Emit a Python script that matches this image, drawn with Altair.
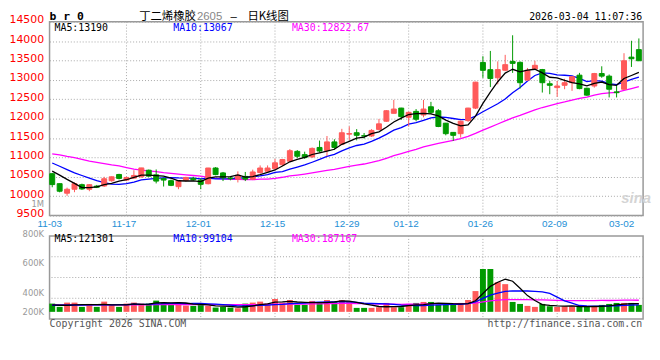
import altair as alt
import pandas as pd
import numpy as np

# ---------------- data ----------------
tick_idx = [0, 10, 20, 30, 40, 48, 58, 68, 77]
tick_lbl = ["11-03", "11-17", "12-01", "12-15", "12-29", "01-12", "01-26", "02-09", "03-02"]
grid_idx = [10, 20, 30, 40, 48, 58, 68]

opens = [10580, 10323, 10077, 10179, 10297, 10179, 10260, 10263, 10399, 10560,
         10416, 10467, 10500, 10670, 10551, 10458, 10400, 10246, 10407, 10460,
         10415, 10322, 10727, 10600, 10470, 10440, 10510, 10440, 10609, 10643,
         10710, 10811, 10903, 11156, 11072, 11013, 11257, 11181, 11400, 11341,
         11600, 11637, 11560, 11552, 11722, 11933, 12137, 12272, 12035, 12187,
         12094, 12306, 12204, 11883, 11645, 11612, 11950, 12272, 13449, 13263,
         13054, 13248, 13476, 13451, 12995, 13282, 13265, 12900, 12800, 12860,
         12927, 13121, 12783, 12842, 13163, 13096, 12690, 12758, 13586, 13780]
highs = [10600, 10330, 10221, 10357, 10323, 10314, 10290, 10500, 10510, 10577,
         10500, 10670, 10730, 10687, 10690, 10470, 10430, 10416, 10500, 10500,
         10457, 10730, 10750, 10625, 10515, 10640, 10625, 10685, 10794, 10794,
         10962, 10962, 11215, 11190, 11148, 11257, 11434, 11552, 11468, 11737,
         11800, 11730, 11630, 11730, 11993, 12221, 12484, 12280, 12180, 12247,
         12484, 12433, 12247, 11890, 11650, 11950, 12280, 12950, 13610, 13746,
         13476, 13645, 14150, 13476, 13307, 13493, 13282, 12970, 12970, 13028,
         13096, 13180, 12800, 13180, 13350, 13138, 12840, 13687, 14008, 14068]
lows = [10230, 10100, 10010, 10103, 10162, 10128, 10210, 10240, 10373, 10433,
        10390, 10450, 10480, 10500, 10330, 10250, 10260, 10180, 10373, 10400,
        10180, 10305, 10540, 10390, 10410, 10355, 10390, 10415, 10583, 10610,
        10693, 10777, 10878, 10980, 10962, 10987, 11131, 11030, 11198, 11316,
        11440, 11440, 11485, 11527, 11696, 11916, 12137, 11967, 11800, 11933,
        12035, 12120, 11780, 11570, 11425, 11510, 11916, 12247, 13051, 12814,
        12885, 13223, 13180, 12775, 12970, 13265, 12673, 12630, 12563, 12758,
        12716, 12758, 12589, 12800, 13054, 12547, 12547, 12740, 13333, 13493]
closes = [10300, 10128, 10179, 10323, 10187, 10297, 10230, 10450, 10500, 10458,
          10484, 10535, 10729, 10517, 10390, 10416, 10280, 10390, 10483, 10420,
          10306, 10727, 10558, 10474, 10450, 10541, 10440, 10625, 10727, 10727,
          10861, 10946, 11173, 11030, 10996, 11232, 11165, 11400, 11257, 11636,
          11615, 11570, 11550, 11696, 11866, 12204, 12247, 12052, 12162, 11984,
          12247, 12162, 11798, 11612, 11570, 11933, 12272, 12941, 13246, 13034,
          13265, 13392, 13425, 12927, 13248, 13375, 12927, 12860, 12842, 12927,
          13080, 12775, 12606, 13163, 13096, 12758, 12670, 13493, 13544, 13493]
vols = [125000, 75000, 140000, 140000, 75000, 120000, 75000, 155000, 105000, 75000,
        125000, 140000, 125000, 125000, 170000, 140000, 125000, 140000, 95000, 90000,
        120000, 90000, 65000, 75000, 65000, 55000, 125000, 140000, 155000, 125000,
        195000, 140000, 180000, 105000, 105000, 165000, 150000, 180000, 150000, 180000,
        155000, 60000, 60000, 60000, 70000, 135000, 70000, 70000, 120000, 135000,
        150000, 150000, 105000, 105000, 105000, 135000, 180000, 315000, 650000, 650000,
        450000, 420000, 150000, 120000, 90000, 75000, 120000, 85000, 75000, 85000,
        85000, 75000, 75000, 85000, 105000, 120000, 135000, 135000, 135000, 105000]

# moving-average values at the left edge (their windows start before the visible range)
ma5_lead = [10645, 10543, 10433, 10331]
ma10_lead = [10856, 10772, 10687, 10602, 10534, 10467, 10399, 10348, 10314]
ma30_lead = [11090, 11066, 11026, 10992, 10950, 10907, 10873, 10839, 10805, 10780,
             10738, 10700, 10675, 10653, 10636, 10610, 10590, 10570, 10551, 10534,
             10518, 10485, 10460, 10445, 10435, 10432, 10425, 10425, 10438]
vma5_lead = [105000, 100000, 100000, 105000]
vma10_lead = [100000, 100000, 100000, 102000, 102000, 104000, 104000, 106000, 106000]
vma30_lead = [104000, 104000, 105000, 105000, 105000, 105000, 106000, 106000, 106000, 106000,
              107000, 107000, 107000, 107000, 108000, 108000, 108000, 108000, 108000, 109000,
              109000, 109000, 109000, 110000, 110000, 110000, 110000, 111000, 111000]

price_ticks = [9500, 10000, 10500, 11000, 11500, 12000, 12500, 13000, 13500, 14000, 14500]
vol_ticks = [200000, 400000, 600000, 800000, 1000000]

# ---------------- derived table ----------------
def moving(values, n, lead):
    s = pd.Series(values, dtype=float).rolling(n).mean()
    s.iloc[: n - 1] = lead
    return s.values

n = len(closes)
df = pd.DataFrame({
    "i": np.arange(n), "open": opens, "high": highs, "low": lows, "close": closes,
    "vol": vols, "zero": 0,
})
df["dir"] = np.where(df["close"] >= df["open"], "up", "down")
df["ma5"] = moving(closes, 5, ma5_lead)
df["ma10"] = moving(closes, 10, ma10_lead)
df["ma30"] = moving(closes, 30, ma30_lead)
df["vma5"] = moving(vols, 5, vma5_lead)
df["vma10"] = moving(vols, 10, vma10_lead)
df["vma30"] = moving(vols, 30, vma30_lead)
grid_df = pd.DataFrame({"i": grid_idx})

# ---------------- styling ----------------
W, HP, HV = 600, 196, 84
RED, GREEN = "#ff5a5a", "#009a00"
GRID = "#a8a8a8"
MONO = "DejaVu Sans Mono"
CJK = "Noto Sans CJK SC"
cs = alt.Scale(domain=["up", "down"], range=[RED, GREEN])

xs = alt.Scale(domain=[-0.36, 79.57], nice=False, zero=False, padding=0)
label_expr = ("[" + ",".join("'%s'" % t for t in tick_lbl) + "][indexof(["
              + ",".join(str(v) for v in tick_idx) + "], datum.value)]")
xax = alt.Axis(values=tick_idx, labelExpr=label_expr, grid=False, ticks=False, domain=False,
               labelColor="#1e8fd6", labelFont="Liberation Sans", labelFontSize=10,
               labelPadding=3, labelOffset=-3, title=None)
X = alt.X("i:Q", scale=xs, axis=xax)
Xv = alt.X("i:Q", scale=xs, axis=None)

ys = alt.Scale(domain=[9500, 14500], nice=False, zero=False, padding=0)
yax = alt.Axis(values=price_ticks, format="d", grid=True, gridColor=GRID, gridDash=[1, 2],
               gridWidth=1, ticks=False, domain=False, labelColor="#ff0000",
               labelFont="DejaVu Sans", labelFontSize=11, labelPadding=6, labelOffset=-2,
               title=None)

def Yp(field):
    return alt.Y(field, scale=ys, axis=yax)

def txt(s, x, y, color="black", font=MONO, size=10, align="left", weight="normal", style="normal"):
    return alt.Chart(pd.DataFrame({"t": [s]})).mark_text(
        align=align, baseline="middle", font=font, fontSize=size, color=color,
        fontWeight=weight, fontStyle=style
    ).encode(x=alt.value(x), y=alt.value(y), text="t:N")

base = alt.Chart(df)

# ---------------- price panel ----------------
vgrid = alt.Chart(grid_df).mark_rule(color=GRID, strokeDash=[1, 2], strokeWidth=1).encode(x=X)
wick = base.mark_rule(strokeWidth=1).encode(
    x=X, y=Yp("low:Q"), y2="high:Q", color=alt.Color("dir:N", scale=cs, legend=None))
body = base.mark_bar(size=5, strokeWidth=1).encode(
    x=X, y=Yp("open:Q"), y2="close:Q",
    color=alt.Color("dir:N", scale=cs, legend=None),
    stroke=alt.Stroke("dir:N", scale=cs, legend=None))
l5 = base.mark_line(color="black", strokeWidth=1.3).encode(x=X, y=Yp("ma5:Q"))
l10 = base.mark_line(color="#0000ff", strokeWidth=1.3).encode(x=X, y=Yp("ma10:Q"))
l30 = base.mark_line(color="#ff00ff", strokeWidth=1.3).encode(x=X, y=Yp("ma30:Q"))

price = alt.layer(
    vgrid, l30, l10, wick, body, l5,
    txt("sina", 578, 178, color="#d4d4d4", font="Liberation Sans", size=15, weight="bold", style="italic"),
    txt("b r 0", 0, -5, font=MONO, size=11.5, weight="bold"),
    txt("丁二烯橡胶", 148, -5, font=CJK, size=11.5, align="right"),
    txt("2605", 149, -4.5, color="#888888", font="Liberation Sans", size=11.5),
    txt("–", 186, -4.5, font="Liberation Sans", size=11.5, align="center"),
    txt("日K线图", 200, -5, font=CJK, size=11.5),
    txt("2026-03-04 11:07:36", 599, -4.5, size=10, align="right"),
    txt("MA5:13190", 5, 6),
    txt("MA10:13067", 125, 6, color="#0000ff"),
    txt("MA30:12822.67", 245, 6, color="#ff00ff"),
).properties(width=W, height=HP)

# ---------------- volume panel ----------------
vdom = [-109500, 1150500]
vys = alt.Scale(domain=vdom, nice=False, zero=False, padding=0)
qvals = [vdom[0] + (vdom[1] - vdom[0]) * k / 4 for k in (1, 2, 3)]
hgrid_v = alt.Chart(pd.DataFrame({"q": qvals})).mark_rule(
    color=GRID, strokeDash=[1, 2], strokeWidth=1).encode(y=alt.Y("q:Q", scale=vys, axis=None))
vgrid_v = alt.Chart(grid_df).mark_rule(color=GRID, strokeDash=[1, 2], strokeWidth=1).encode(x=Xv)
vbars = base.mark_bar(size=6).encode(
    x=Xv, y=alt.Y("vol:Q", scale=vys, axis=None), y2="zero:Q",
    color=alt.Color("dir:N", scale=cs, legend=None))
v5 = base.mark_line(color="black", strokeWidth=1.3).encode(x=Xv, y=alt.Y("vma5:Q", scale=vys, axis=None))
v10 = base.mark_line(color="#0000ff", strokeWidth=1.3).encode(x=Xv, y=alt.Y("vma10:Q", scale=vys, axis=None))
v30 = base.mark_line(color="#ff00ff", strokeWidth=1.3).encode(x=Xv, y=alt.Y("vma30:Q", scale=vys, axis=None))

vol_main = alt.layer(
    hgrid_v, vgrid_v, vbars, v30, v10, v5,
    txt("MA5:121301", 5, 3.5),
    txt("MA10:99104", 125, 3.5, color="#0000ff"),
    txt("MA30:187167", 245, 3.5, color="#ff00ff"),
    txt("Copyright 2026 SINA.COM", 0, 89, color="#555555"),
    txt("http://finance.sina.com.cn", 599, 89, color="#555555", align="right"),
)
vol_labels = alt.Chart(pd.DataFrame({"v": vol_ticks})).mark_point(opacity=0).encode(
    y=alt.Y("v:Q",
            scale=alt.Scale(domain=[271000, 1000000], range=[76, -32.8], clamp=True,
                            nice=False, zero=False),
            axis=alt.Axis(orient="left", values=vol_ticks,
                          labelExpr="datum.value >= 1000000 ? '1M' : format(datum.value / 1000, 'd') + 'K'",
                          ticks=False, domain=False, grid=False, labelColor="#999999",
                          labelFont="DejaVu Sans", labelFontSize=8.5, labelPadding=6, title=None)))
volume = alt.layer(vol_main, vol_labels).resolve_scale(y="independent").properties(width=W, height=HV)

chart = alt.vconcat(price, volume, spacing=20.6, bounds="flush").properties(
    padding=0, background="white"
).configure_view(stroke="#999999", strokeWidth=1.5)

chart.save("out.html", embed_options={"renderer": "svg", "actions": False})
